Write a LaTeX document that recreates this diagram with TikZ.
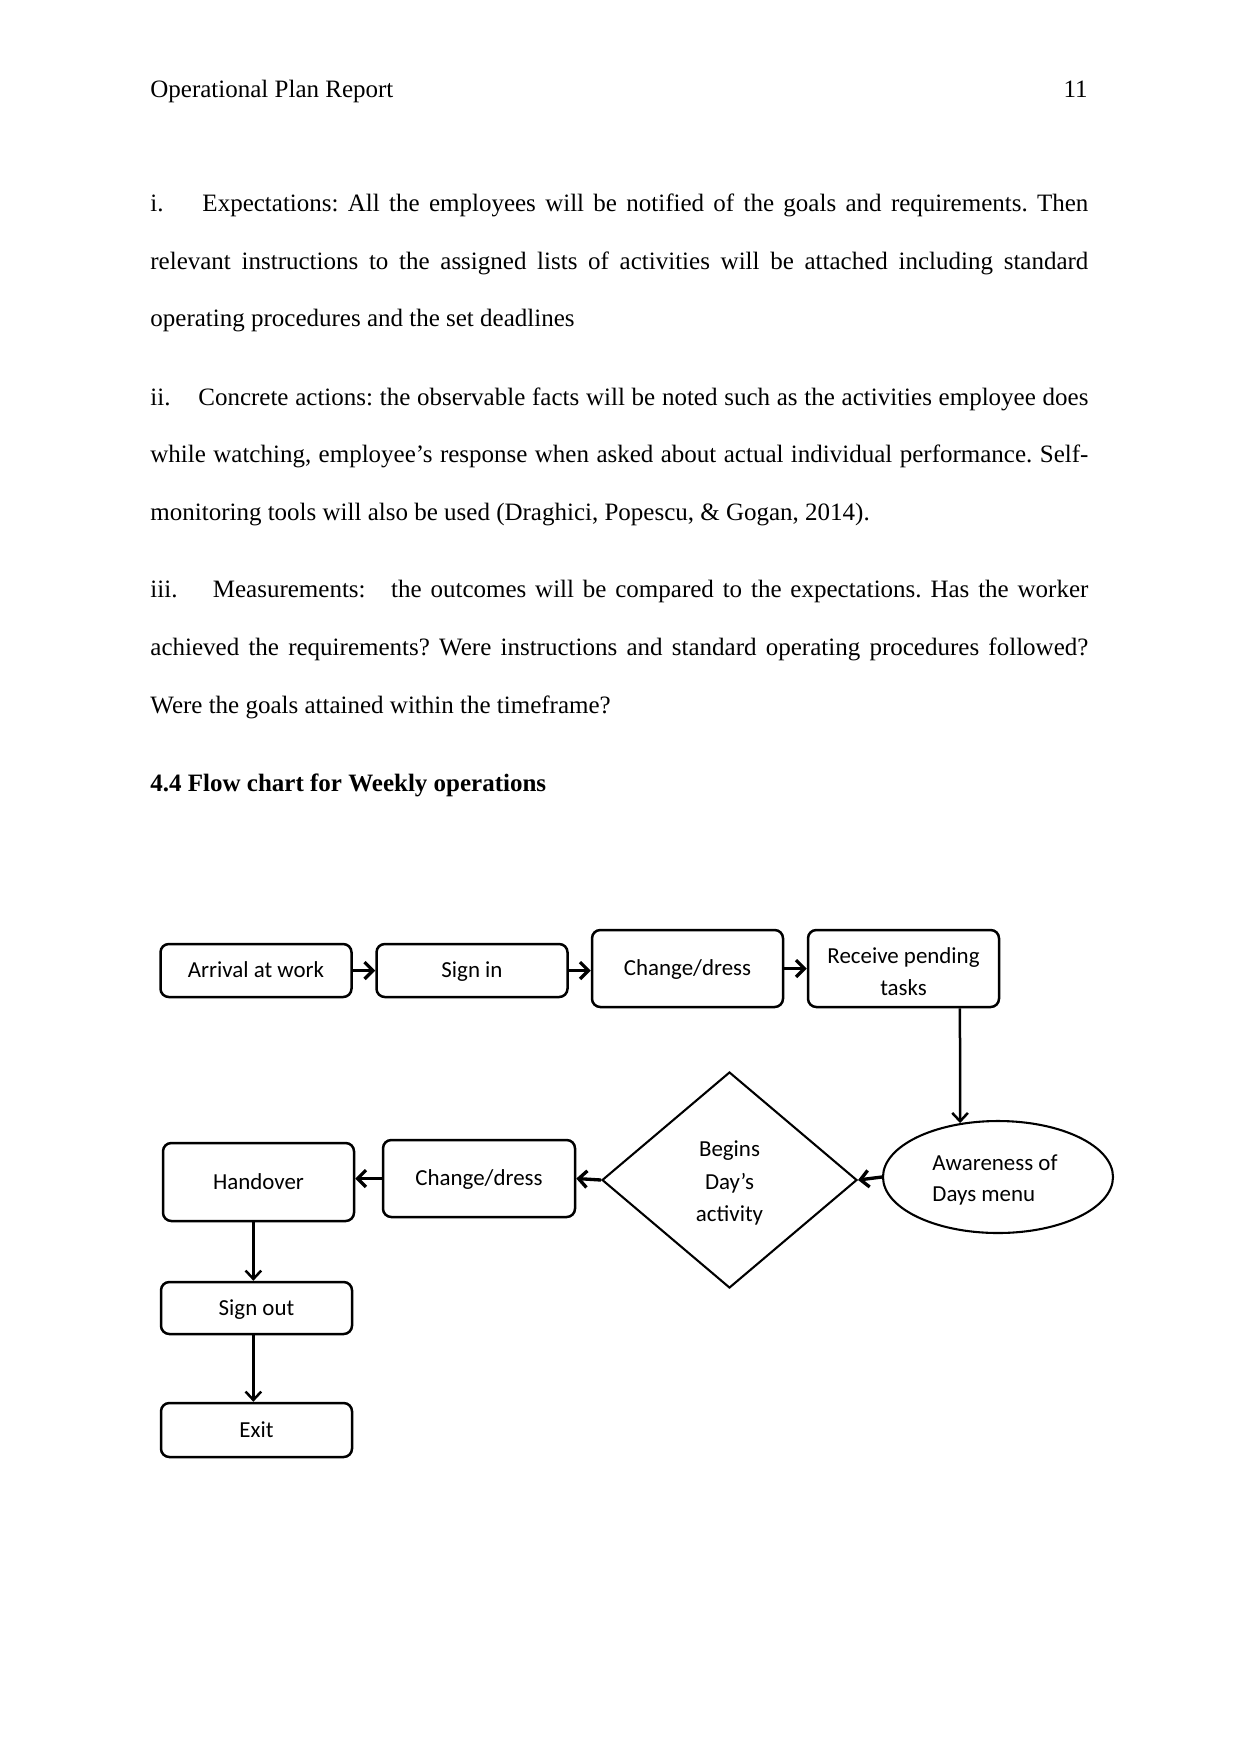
\documentclass[tikz,border=0pt]{standalone}
\usepackage{fontspec}
\setmainfont{Liberation Serif}
\newfontfamily\calib{Carlito}
\usetikzlibrary{shapes.geometric,arrows.meta}
\frenchspacing
\begin{document}
\begin{tikzpicture}[x=0.48pt,y=-0.48pt,
  body/.style={anchor=base west, inner sep=0pt, font=\frenchspacing\fontsize{12}{14}\selectfont},
  box/.style={draw, rounded corners=4pt, line width=1.2pt, fill=white, inner sep=0pt,
    align=center, font=\calib\fontsize{11}{15.2}\selectfont},
  one/.style={text height=8pt, text depth=0.9pt},
  txt/.style={inner sep=0pt, font=\calib\fontsize{11}{15.3}\selectfont},
  dia/.style={draw, diamond, line width=1pt, inner sep=0pt},
  ell/.style={draw, ellipse, line width=1pt, inner sep=0pt},
  arr/.style={line width=1.6pt, -{Straight Barb[length=4pt,width=8pt]}},
  varr/.style={line width=1.2pt, -{Straight Barb[length=4pt,width=7.5pt]}}]
\useasboundingbox (0,0) rectangle (1241,1754);
\fill[white] (0,0) rectangle (1241,1754);

% header
\node[body] (hdr) at (150,97.3) {Operational Plan Report};
\node[body, anchor=base east] (pgno) at (1088,97.3) {11};

% paragraph i
\node[body] (p1a) at (150,211.7) {\makebox[450.2pt][s]{\makebox[25pt][l]{i.}Expectations: All the employees will be notified of the goals and requirements. Then}};
\node[body] (p1b) at (150,269.3) {\makebox[450.2pt][s]{relevant instructions to the assigned lists of activities will be attached including standard}};
\node[body] (p1c) at (150,326.9) {operating procedures and the set deadlines};

% paragraph ii
\node[body] (p2a) at (150,405.3) {\makebox[450.2pt][s]{\makebox[23pt][l]{ii.}Concrete actions: the observable facts will be noted such as the activities employee does}};
\node[body] (p2b) at (150,462.9) {\makebox[450.2pt][s]{while watching, employee’s response when asked about actual individual performance. Self-}};
\node[body] (p2c) at (150,520.5) {monitoring tools will also be used (Draghici, Popescu, \& Gogan, 2014).};

% paragraph iii
\node[body] (p3a) at (150,597.8) {\makebox[450.2pt][s]{\makebox[30pt][l]{iii.}Measurements:\hspace*{8pt} the outcomes will be compared to the expectations. Has the worker}};
\node[body] (p3b) at (150,655.4) {\makebox[450.2pt][s]{achieved the requirements? Were instructions and standard operating procedures followed?}};
\node[body] (p3c) at (150,713) {Were the goals attained within the timeframe?};

% heading
\node[body] (head) at (150,791.7) {\textbf{4.4 Flow chart for Weekly operations}};

% flowchart nodes
\node[box, one, minimum width=191*0.48pt, minimum height=53*0.48pt] (arrival) at (256,970.5) {Arrival at work};
\node[box, one, minimum width=191*0.48pt, minimum height=53*0.48pt] (signin) at (472,970.5) {Sign in};
\node[box, one, minimum width=191*0.48pt, minimum height=77*0.48pt] (change1) at (687.5,968.5) {Change/dress};
\node[box, minimum width=191*0.48pt, minimum height=77*0.48pt] (receive) at (903.5,968.5) {};
\node[txt, align=center] (receivetxt) at (903.5,971.5) {Receive pending\\tasks};
\node[ell, minimum width=230*0.48pt, minimum height=112*0.48pt] (aware) at (998,1177) {};
\node[txt, align=left] (awaretxt) at (995,1180) {Awareness of\\Days menu};
\node[dia, minimum width=255*0.48pt, minimum height=216*0.48pt] (begins) at (729.5,1180) {};
\node[txt, align=center, font=\calib\fontsize{11}{15.5}\selectfont] (beginstxt) at (729.5,1183) {Begins\\Day’s\\activity};
\node[box, one, minimum width=192*0.48pt, minimum height=77*0.48pt] (change2) at (479,1178.5) {Change/dress};
\node[box, one, minimum width=191*0.48pt, minimum height=78*0.48pt] (handover) at (258.5,1182) {Handover};
\node[box, one, minimum width=191*0.48pt, minimum height=52*0.48pt] (signout) at (256.5,1308) {Sign out};
\node[box, one, minimum width=191*0.48pt, minimum height=54*0.48pt] (exit) at (256.5,1430) {Exit};

% connectors
\draw[arr] (arrival.east) -- (signin.west);
\draw[arr] (signin.east) -- (signin.east -| change1.west);
\draw[arr] (change1.east) -- (receive.west |- change1.east);
\coordinate (rdrop) at ([xshift=27.1pt]receive.south);
\coordinate (rhit) at ([xshift=-18.2pt,yshift=-1.5pt]aware.north);
\draw[varr] (rdrop) -- (rhit);
\draw[arr] (aware.west) -- (begins.east);
\draw[arr] (begins.west) -- (change2.east);
\draw[arr] (change2.west) -- (change2.west -| handover.east);
\draw[varr] ([xshift=-1.5pt]signout.north |- handover.south) -- ([xshift=-1.5pt]signout.north);
\draw[varr] ([xshift=-1.5pt]signout.south) -- ([xshift=-1.5pt]exit.north);
\end{tikzpicture}
\end{document}
